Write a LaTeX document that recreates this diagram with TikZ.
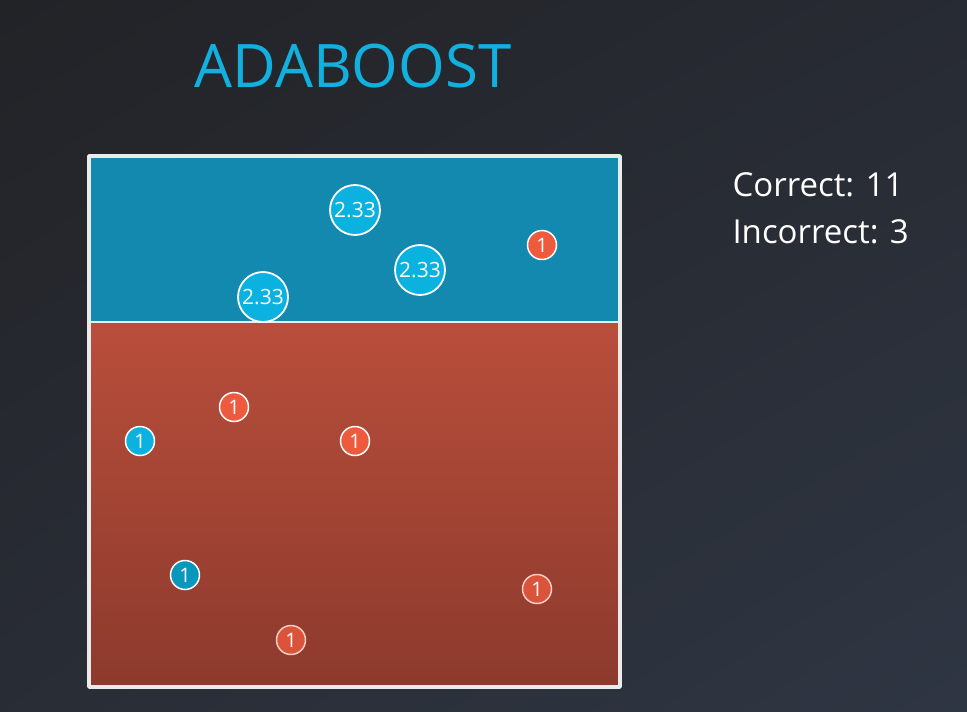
\documentclass[tikz,border=0pt]{standalone}
\usepackage{fontspec}
\setmainfont{Open Sans}
\usetikzlibrary{shadings}
\definecolor{bgA}{HTML}{222327}
\definecolor{bgB}{HTML}{2F3643}
\definecolor{topfill}{HTML}{1389B0}
\definecolor{redtop}{HTML}{B94E3B}
\definecolor{redbot}{HTML}{8C3A2D}
\definecolor{ptblue}{HTML}{0BB2E0}
\definecolor{ptred}{HTML}{EE5A3E}
\definecolor{titleblue}{HTML}{12B0DF}
\begin{document}
\begin{tikzpicture}[x=1pt,y=-1pt,line join=round,
	big/.style={circle,draw=white,line width=1.8pt,fill=ptblue,minimum size=50pt,inner sep=0pt,text=white,font=\fontsize{21}{22}\selectfont},
	bluept/.style={circle,draw=white,line width=1.5pt,fill=ptblue,minimum size=29pt,inner sep=0pt,text=white,font=\fontsize{20}{22}\selectfont},
	redpt/.style={bluept,fill=ptred},
	fadept/.style={redpt,fill=ptred!80!redbot,draw=white!70!ptred}]
	\useasboundingbox (0,0) rectangle (967,712);
	\shade[upper left=bgA,upper right=bgA!60!bgB,lower left=bgA!50!bgB,lower right=bgB] (0,0) rectangle (967,712);
	\node[text=titleblue,font=\fontsize{60}{72}\selectfont] (title) at (353,66) {ADABOOST};
	\fill[topfill] (90,157) rectangle (619,322);
	\shade[top color=redtop,middle color=redtop!80!redbot,bottom color=redbot] (90,322) rectangle (619,686);
	\draw[white!92!black,line width=3.5pt] (89,156) rectangle (620,687);
	\draw[white!92!black,line width=2pt] (90,322)--(619,322);
	\node[big] (w1) at (355,210) {2.33};
	\node[big] (w2) at (420,270) {2.33};
	\node[big] (w3) at (263,297) {2.33};
	\node[redpt] (r1) at (542,245) {1};
	\node[redpt] (r2) at (234,407) {1};
	\node[bluept] (b1) at (140,441) {1};
	\node[redpt] (r3) at (355,441) {1};
	\node[bluept,fill=ptblue!85!black] (b2) at (185,575) {1};
	\node[fadept] (r4) at (537,589) {1};
	\node[fadept] (r5) at (291,640) {1};
	\node[text=white,font=\fontsize{33}{47}\selectfont,align=left,anchor=north west] (score) at (729,169) {Correct: 11\\Incorrect: 3};
\end{tikzpicture}
\end{document}
